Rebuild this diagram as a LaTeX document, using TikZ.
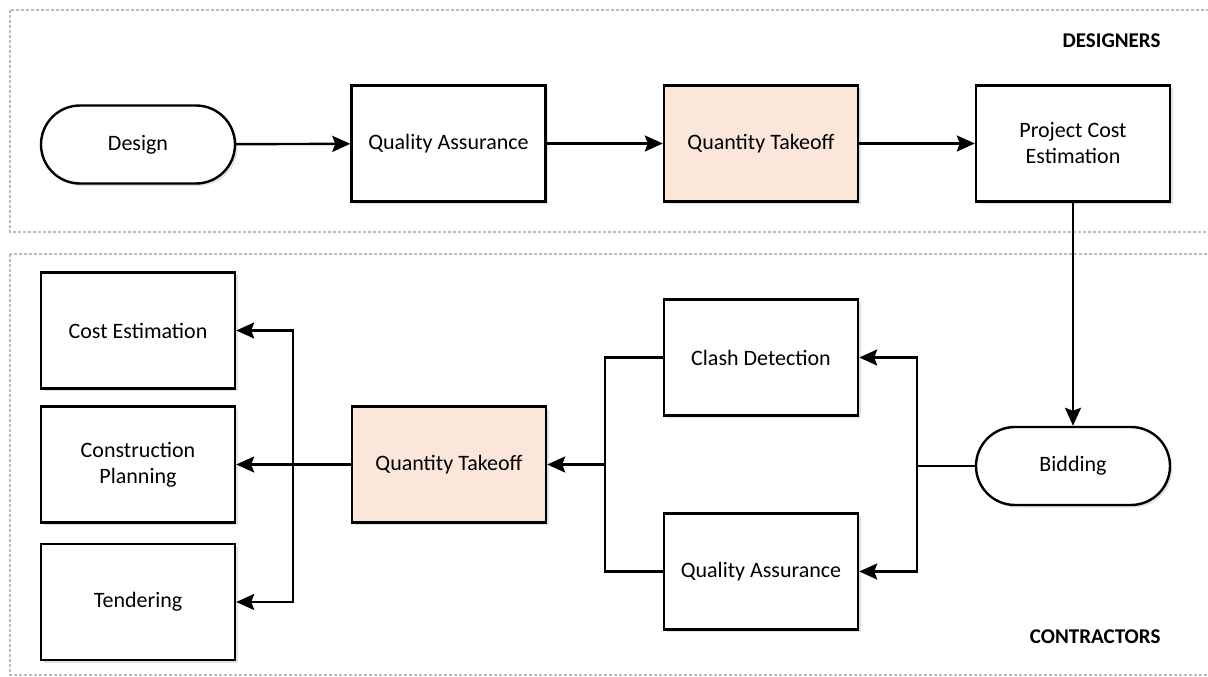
\documentclass[tikz,border=0pt]{standalone}
\usepackage{fontspec}
\setmainfont{Carlito}
\usetikzlibrary{arrows.meta,shadows}
\definecolor{peach}{HTML}{FBE7DA}
\definecolor{frame}{HTML}{BBBBBB}
\tikzset{
  boxstyle/.style={draw=black, line width=2.4pt, fill=white, minimum width=194pt, minimum height=116pt, inner sep=0pt, align=center, font=\fontsize{22}{26}\selectfont, drop shadow={shadow xshift=2.5pt, shadow yshift=-2.5pt, fill=black!22}},
  pill/.style={boxstyle, rounded corners=39pt, minimum height=78pt},
  hl/.style={fill=peach},
  conn/.style={line width=2.4pt, draw=black},
  arr/.style={conn, -{Stealth[length=18pt, width=16pt, inset=3pt]}},
  region/.style={draw=frame, line width=1.4pt, dash pattern=on 3pt off 2pt},
  lane/.style={font=\bfseries\fontsize{21}{25}\selectfont}
}
\begin{document}
\begin{tikzpicture}[x=1pt,y=-1pt]
\useasboundingbox (0,0) rectangle (1208,677);
\fill[white] (0,0) rectangle (1208,677);
\draw[region] (10,10) rectangle (1230,232);
\draw[region] (10,254) rectangle (1230,675);

\node[lane, anchor=east] (designers) at (1164,41) {DESIGNERS};
\node[lane, anchor=east] (contractors) at (1164,637) {CONTRACTORS};

% top row
\node[pill] (design) at (138,144.5) {Design};
\node[boxstyle] (qa1) at (448.5,143.5) {Quality Assurance};
\node[boxstyle, hl] (qt1) at (761,143.5) {Quantity Takeoff};
\node[boxstyle] (pce) at (1073,143.5) {Project Cost\\Estimation};

% bottom
\node[pill] (bid) at (1073,466) {Bidding};
\node[boxstyle] (clash) at (761,357.5) {Clash Detection};
\node[boxstyle] (qa2) at (761,571.5) {Quality Assurance};
\node[boxstyle, hl] (qt2) at (449,464.5) {Quantity Takeoff};
\node[boxstyle] (cost) at (138,330.5) {Cost Estimation};
\node[boxstyle] (plan) at (138,464.5) {Construction\\Planning};
\node[boxstyle] (tend) at (138,602) {Tendering};

\coordinate (jr) at (917,466);
\coordinate (jl) at (605,464.5);
\coordinate (jc) at (293,464.5);

\draw[arr] (design) -- (qa1);
\draw[arr] (qa1) -- (qt1);
\draw[arr] (qt1) -- (pce);
\draw[arr] (pce) -- (bid);

\draw[conn] (bid.west) -- (jr);
\draw[arr] (jr) |- (clash.east);
\draw[arr] (jr) |- (qa2.east);

\draw[conn] (clash.west) -| (jl);
\draw[conn] (qa2.west) -| (jl);
\draw[arr] (jl) -- (qt2.east);

\draw[arr] (qt2.west) -- (plan.east);
\draw[arr] (jc) |- (cost.east);
\draw[arr] (jc) |- (tend.east);
\end{tikzpicture}
\end{document}
